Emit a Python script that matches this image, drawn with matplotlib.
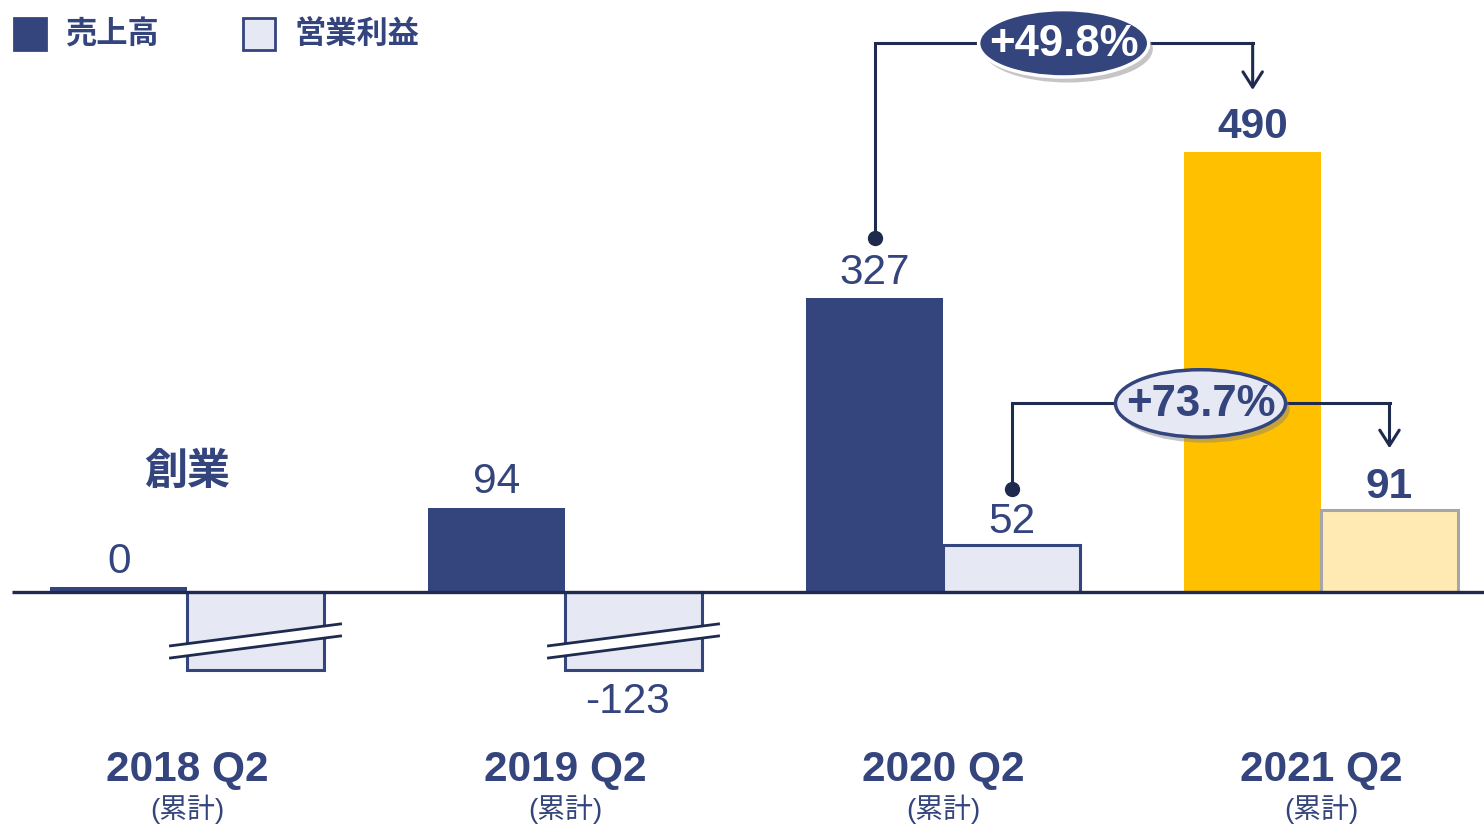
import matplotlib
matplotlib.use("Agg")
import matplotlib.pyplot as plt
from matplotlib.patches import Ellipse, Rectangle, Polygon
from matplotlib import patheffects as pe

# %%
# Data
periods = ["2018 Q2", "2019 Q2", "2020 Q2", "2021 Q2"]
sub_label = "(累計)"
sales = [0, 94, 327, 490]
op_profit = [None, -123, 52, 91]  # 2018: loss, value not shown
growth_sales = "+49.8%"
growth_profit = "+73.7%"
legend_labels = ["売上高", "営業利益"]
founding_label = "創業"

# %%
# Styles
NAVY = "#34447d"
DARK = "#1f2a4f"
LIGHT = "#e6e9f4"
GOLD = "#ffc000"
PALE_GOLD = "#ffeab3"
GREY = "#a6a6a6"
NUM = ["Liberation Sans", "DejaVu Sans"]
CJK = ["Noto Sans CJK JP", "DejaVu Sans"]
MIX = ["Liberation Sans", "Noto Sans CJK JP"]

W = 0.362          # bar width
BREAK_DEPTH = -87  # drawn depth of the truncated negative bars
MIN_H = 5          # visible sliver for a zero bar
FS = 30.5

fig = plt.figure(figsize=(14.84, 8.25), dpi=100)
ax = fig.add_axes([0, 0, 1, 1])
ax.set_xlim(-0.495, 3.431)
ax.set_ylim(-259.5, 659.2)
ax.axis("off")

x = list(range(len(periods)))
last = len(periods) - 1

# %%
# Bars
for i in x:
    hi = i == last
    s = sales[i]
    ax.bar(i - W / 2, max(s, MIN_H), width=W, color=GOLD if hi else NAVY,
           edgecolor="none", zorder=2)
    fw = "bold" if hi else "normal"
    ax.text(i - W / 2, max(s, MIN_H) + 28, f"{s:,}", ha="center", va="center",
            fontsize=FS, color=NAVY, fontweight=fw, family=NUM, zorder=5)

    p = op_profit[i]
    if p is None or p < 0:
        ax.bar(i + W / 2, BREAK_DEPTH, width=W, color=LIGHT, edgecolor=NAVY,
               linewidth=2.2, zorder=2)
        # break marks
        xl, xr = i + W / 2 - 0.18 - 0.045, i + W / 2 + 0.18 + 0.045
        up = [-60, -35.6]
        lo = [-73.5, -49]
        ax.add_patch(Polygon([[xl, up[0]], [xr, up[1]], [xr, lo[1]], [xl, lo[0]]],
                             closed=True, facecolor="white", edgecolor="none",
                             zorder=3))
        ax.plot([xl, xr], up, color=DARK, lw=2, zorder=4)
        ax.plot([xl, xr], lo, color=DARK, lw=2, zorder=4)
        if p is not None:
            ax.text(i + W / 2 - 0.015, BREAK_DEPTH - 35, f"{p}", ha="center",
                    va="center", fontsize=FS, color=NAVY, family=NUM)
    else:
        ax.bar(i + W / 2, p, width=W, color=PALE_GOLD if hi else LIGHT,
               edgecolor=GREY if hi else NAVY, linewidth=2.2, zorder=2)
        fw = "bold" if hi else "normal"
        ax.text(i + W / 2, p + 26, f"{p}", ha="center", va="center",
                fontsize=FS, color=NAVY, fontweight=fw, family=NUM, zorder=5)

    ax.text(i, -198, periods[i], ha="center", va="center", fontsize=FS,
            fontweight="bold", color=NAVY, family=NUM)
    ax.text(i, -242, sub_label, ha="center", va="center", fontsize=20,
            color=NAVY, family=MIX)

ax.text(0, 135, founding_label, ha="center", va="center", fontsize=31,
        fontweight="bold", color=NAVY, family=CJK)

# baseline
ax.plot([-0.463, 3.431], [0, 0], color=DARK, lw=2.4, zorder=6,
        solid_capstyle="butt")


# %%
# Growth connectors
def connector(x0, y0, x1, y_line, y_end, label, face, edge, tcolor):
    ax.plot([x0, x0, x1], [y0, y_line, y_line], color=DARK, lw=2.2,
            zorder=6, solid_joinstyle="miter")
    ax.plot(x0, y0, "o", color=DARK, markersize=10, zorder=7)
    ax.annotate("", xy=(x1, y_end), xytext=(x1, y_line),
                arrowprops=dict(arrowstyle="->,head_length=0.55,head_width=0.35",
                                color=DARK, lw=2.2, shrinkA=0, shrinkB=0,
                                mutation_scale=20),
                zorder=6)
    xc = (x0 + x1) / 2
    el = Ellipse((xc, y_line), 0.45, 75, facecolor=face, edgecolor=edge,
                 linewidth=2.5, zorder=8)
    el.set_path_effects([pe.SimplePatchShadow(offset=(3, -4), shadow_rgbFace="#808080",
                                              alpha=0.45), pe.Normal()])
    ax.add_patch(el)
    ax.text(xc, y_line - 1, label, ha="center", va="center", fontsize=31.5,
            fontweight="bold", color=tcolor, family=NUM, zorder=9)


connector(2 - W / 2, sales[2] + 67, last - W / 2, 611, sales[last] + 69,
          growth_sales, NAVY, "white", "white")
connector(2 + W / 2, op_profit[2] + 63, last + W / 2, 210, op_profit[last] + 69,
          growth_profit, LIGHT, NAVY, NAVY)

# %%
# Legend (manual, top left)
handles = [(NAVY, NAVY), (LIGHT, NAVY)]
lx = [-0.458, 0.148]
for (fc, ec), lab, xx in zip(handles, legend_labels, lx):
    ax.add_patch(Rectangle((xx, 603.6), 0.085, 35.6, facecolor=fc,
                           edgecolor=ec, linewidth=2, zorder=5))
    ax.text(xx + 0.135, 621, lab, ha="left", va="center", fontsize=22.5,
            fontweight="bold", color=NAVY, family=CJK)

fig.savefig("out.png", dpi=100)
